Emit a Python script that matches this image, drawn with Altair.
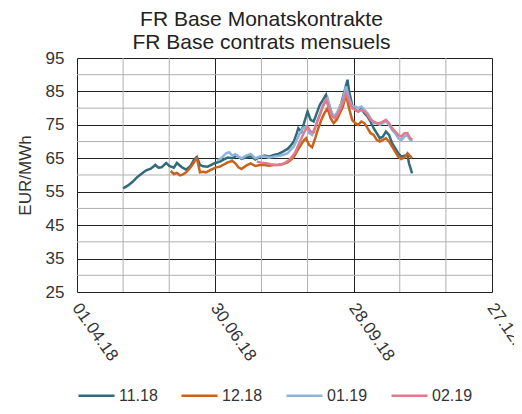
import altair as alt
import pandas as pd

# x values: day offset from 01.04.18
names = ["11.18", "12.18", "01.19", "02.19"]
colors = ["#2F6B7A", "#C8621C", "#8DB4DC", "#E07A8C"]

d_1118 = [30, 33, 36, 39, 42, 45, 48, 51, 53, 55, 58, 60, 63, 65, 68, 71, 74, 76, 78, 80, 82, 85, 88, 90,
          93, 95, 98, 101, 104, 107, 110, 113, 116, 119, 122, 125, 128, 131, 134, 137, 139, 141, 143, 144,
          146, 148, 150, 152, 154, 156, 158, 160, 162, 164, 166, 168, 170, 172, 174, 176, 177, 179, 181,
          183, 185, 187, 189, 191, 193, 195, 197, 199, 201, 203, 205, 207, 209, 211, 213, 215, 216, 218]
v_1118 = [56.0, 56.8, 57.9, 59.3, 60.4, 61.4, 61.9, 63.0, 62.2, 62.3, 63.6, 62.7, 62.2, 63.6, 62.4, 61.6,
          62.8, 64.5, 65.4, 63.0, 62.6, 62.5, 63.2, 63.6, 64.0, 64.5, 65.2, 65.0, 65.8, 64.8, 65.3, 65.6,
          64.6, 65.4, 65.8, 65.5, 66.0, 66.3, 67.0, 67.8, 68.8, 70.0, 72.5, 74.0, 73.0, 76.0, 79.0, 76.5,
          76.0, 78.5, 81.0, 82.5, 84.0, 81.0, 78.0, 77.0, 79.0, 81.5, 85.0, 88.5, 85.0, 81.0, 79.5, 79.0,
          79.8, 78.5, 77.5, 76.0, 74.0, 72.5, 71.0, 71.5, 73.0, 72.0, 69.5, 68.0, 66.5, 65.5, 65.8, 66.0,
          63.5, 60.5]

d_1218 = [61, 63, 65, 67, 69, 71, 73, 75, 77, 78, 80, 82, 84, 87, 90, 93, 95, 98, 101, 103, 105, 107, 110,
          113, 116, 119, 122, 125, 128, 131, 134, 137, 139, 141, 143, 145, 147, 149, 151, 153, 155, 157,
          159, 161, 163, 165, 167, 169, 171, 173, 175, 177, 179, 181, 183, 185, 187, 189, 191, 193, 195,
          197, 199, 201, 203, 205, 207, 209, 211, 213, 215, 216, 218]
v_1218 = [61.2, 60.3, 60.6, 59.9, 60.2, 60.8, 61.8, 63.0, 64.5, 65.0, 60.8, 61.0, 60.8, 61.5, 62.2, 62.5,
          63.0, 63.8, 64.2, 63.5, 62.3, 61.8, 62.8, 63.5, 62.7, 63.0, 63.0, 62.8, 63.0, 63.1, 63.3, 63.8,
          64.5, 65.3, 67.0, 68.5, 70.0, 71.0, 69.0, 68.3, 71.0, 74.0, 76.5, 78.5, 80.0, 77.0, 75.5, 76.5,
          78.5, 80.5, 84.0, 80.0, 76.5, 75.5, 75.0, 76.0, 75.5, 74.0, 72.5, 72.0, 70.5, 70.0, 70.5, 71.0,
          70.0, 68.5, 67.0, 65.5, 64.8, 65.2, 66.5, 66.0, 65.0]

d_0119 = [91, 93, 95, 97, 99, 101, 103, 105, 107, 110, 113, 116, 119, 122, 125, 128, 131, 134, 137, 139,
          141, 143, 145, 147, 149, 151, 153, 155, 157, 159, 161, 163, 165, 167, 169, 171, 173, 175, 177,
          179, 181, 183, 185, 187, 189, 191, 193, 195, 197, 199, 201, 203, 205, 207, 209, 211, 213, 215,
          216, 218]
v_0119 = [64.3, 64.8, 65.5, 66.5, 66.8, 65.8, 66.2, 65.5, 65.0, 65.8, 66.3, 65.0, 65.6, 65.5, 65.2, 65.5,
          65.7, 66.0, 66.5, 67.5, 68.5, 70.5, 72.5, 74.0, 74.5, 72.5, 72.0, 74.5, 77.0, 79.5, 82.0, 83.0,
          79.5, 77.5, 78.5, 80.5, 82.5, 86.5, 83.0, 80.5, 80.5, 80.0, 80.5, 79.5, 78.5, 77.0, 75.5, 75.5,
          75.0, 75.5, 76.0, 75.0, 73.5, 72.5, 71.0, 70.5, 71.5, 72.0, 71.0, 70.0]

d_0219 = [117, 120, 123, 126, 129, 132, 135, 138, 140, 142, 144, 146, 148, 150, 152, 154, 156, 158, 160,
          162, 164, 166, 168, 170, 172, 174, 175, 177, 179, 181, 183, 185, 187, 189, 191, 193, 195, 197,
          199, 201, 203, 205, 207, 209, 211, 213, 215, 216, 218]
v_0219 = [64.0, 63.7, 63.5, 63.2, 63.0, 63.0, 63.5, 64.5, 65.5, 66.8, 69.0, 71.0, 73.0, 74.5, 73.0, 72.8,
          75.5, 78.0, 80.5, 82.5, 80.0, 77.5, 77.0, 78.5, 80.5, 83.0, 84.5, 82.0, 80.0, 79.5, 79.0, 79.5,
          79.0, 78.0, 76.5, 76.0, 75.5, 75.5, 76.0, 76.5, 75.5, 74.0, 73.0, 72.0, 71.5, 72.5, 72.5, 71.5,
          70.5]

x_major = [0, 90, 180, 270]
x_labels = ["01.04.18", "30.06.18", "28.09.18", "27.12.18"]
x_minor = [30, 60, 120, 150, 210, 240]
y_major = [25, 35, 45, 55, 65, 75, 85, 95]
y_minor = [30, 40, 50, 60, 70, 80, 90]

rows = []
for nm, dd, vv in zip(names, [d_1118, d_1218, d_0119, d_0219], [v_1118, v_1218, v_0119, v_0219]):
    for d, v in zip(dd, vv):
        rows.append({"contract": nm, "day": d, "value": v})
df = pd.DataFrame(rows)

xscale = alt.Scale(domain=[0, 270], nice=False, zero=False)
yscale = alt.Scale(domain=[25, 95], nice=False, zero=False)

label_expr = "[" + ",".join("'" + s + "'" for s in x_labels) + "][round(datum.value/90)]"

x_axis = alt.Axis(values=x_major, labelExpr=label_expr, grid=True, gridColor="#222222",
                  gridOpacity=1, ticks=False, domain=False, labelAngle=55, labelAlign="left",
                  labelBaseline="top", labelPadding=8, labelOffset=5, labelFontSize=17,
                  labelColor="#333333", labelFont="Liberation Sans", title=None, labelOverlap=False,
                  labelBound=False, labelFlush=False)
y_axis = alt.Axis(values=y_major, grid=True, gridColor="#222222", gridOpacity=1, ticks=False,
                  domain=False, labelPadding=13, labelFontSize=17, labelColor="#333333",
                  labelFont="Liberation Sans", title="EUR/MWh", titleFontSize=17,
                  titleFontWeight="normal", titleFont="Liberation Sans", titleColor="#333333",
                  titlePadding=11)

minor_h = alt.Chart(pd.DataFrame({"value": y_minor})).mark_rule(color="#b0b0b0", strokeWidth=1).encode(
    y=alt.Y("value:Q", scale=yscale, axis=y_axis))
minor_v = alt.Chart(pd.DataFrame({"day": x_minor})).mark_rule(color="#b0b0b0", strokeWidth=1).encode(
    x=alt.X("day:Q", scale=xscale, axis=x_axis))

lines = alt.Chart(df).mark_line(strokeWidth=2.5).encode(
    x=alt.X("day:Q", scale=xscale, axis=x_axis),
    y=alt.Y("value:Q", scale=yscale, axis=y_axis),
    color=alt.Color("contract:N", scale=alt.Scale(domain=names, range=colors),
                    legend=alt.Legend(title=None, orient="none", legendX=0, legendY=318,
                                      direction="horizontal", symbolType="stroke", symbolSize=1300,
                                      symbolStrokeWidth=2.5, labelFontSize=16, labelFont="Liberation Sans",
                                      labelColor="#333333", columnPadding=18, labelOffset=3)),
)

chart = alt.layer(minor_h, minor_v, lines).properties(
    width=415, height=234,
    autosize=alt.AutoSizeParams(type="none"),
    padding={"left": 69, "top": 50, "right": 22, "bottom": 114},
    title=alt.TitleParams(["FR Base Monatskontrakte", "FR Base contrats mensuels"], fontSize=21,
                          font="Liberation Sans", fontWeight="normal", color="#222222", anchor="middle",
                          frame="group", dx=-23, lineHeight=23, offset=-4),
).configure_view(stroke="#222222", strokeWidth=1).configure(background="white")

chart.save("out.html", embed_options={"renderer": "svg", "actions": False})
